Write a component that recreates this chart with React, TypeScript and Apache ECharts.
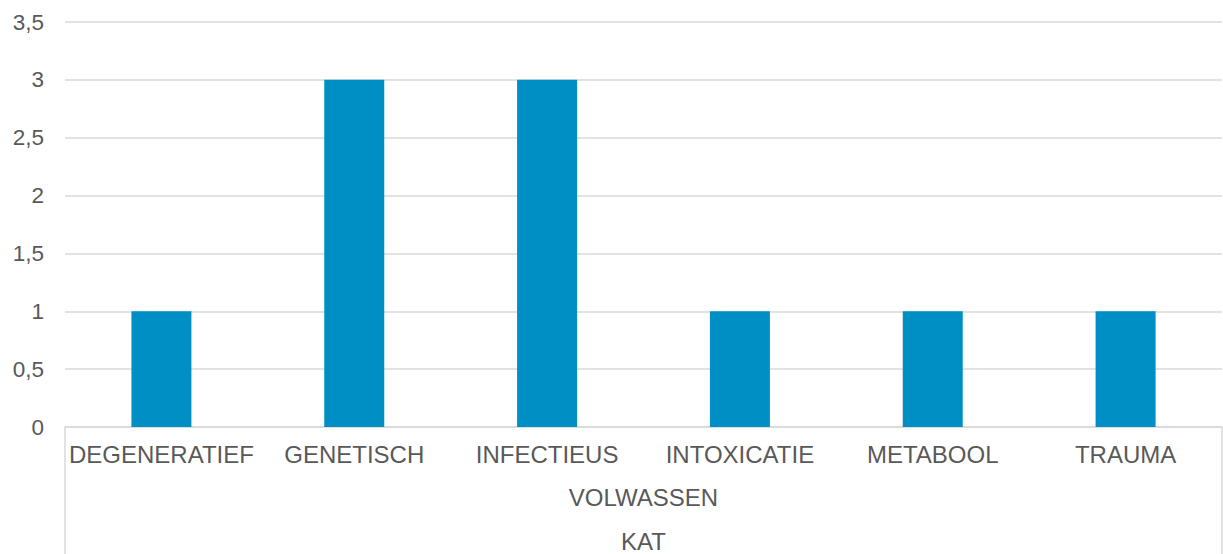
import React, { useEffect, useRef } from "react";
import * as echarts from "echarts";

const categories = ["DEGENERATIEF", "GENETISCH", "INFECTIEUS", "INTOXICATIE", "METABOOL", "TRAUMA"];
const values = [1, 3, 3, 1, 1, 1];
const groupLevel1 = ["VOLWASSEN"];
const groupLevel2 = ["KAT"];

const FONT = "'Liberation Sans', Arial, sans-serif";
const TEXT = "#595959";
const GRID = "#d9d9d9";
const XFS = 24;

export default function App() {
  const ref = useRef<HTMLDivElement>(null);
  useEffect(() => {
    document.body.style.margin = "0";
    const chart = echarts.init(ref.current!, null, { renderer: "svg" });
    chart.setOption({
      animation: false,
      textStyle: { fontFamily: FONT },
      grid: { left: 65, right: 1, top: 22, bottom: 127, containLabel: false },
      xAxis: [
        {
          type: "category",
          data: categories,
          position: "bottom",
          axisLine: { show: true, lineStyle: { color: GRID, width: 1.5 } },
          axisTick: { show: false },
          axisLabel: { color: TEXT, fontSize: XFS, fontFamily: FONT, margin: 15, interval: 0 },
        },
        {
          type: "category",
          data: groupLevel1,
          position: "bottom",
          axisLine: { show: false },
          axisTick: { show: true, length: 127, lineStyle: { color: GRID, width: 1.5 } },
          axisLabel: { color: TEXT, fontSize: XFS, fontFamily: FONT, margin: 58 },
        },
        {
          type: "category",
          data: groupLevel2,
          position: "bottom",
          axisLine: { show: false },
          axisTick: { show: false },
          axisLabel: { color: TEXT, fontSize: XFS, fontFamily: FONT, margin: 102 },
        },
      ],
      yAxis: {
        type: "value",
        min: 0,
        max: 3.5,
        interval: 0.5,
        axisLine: { show: false },
        axisTick: { show: false },
        splitLine: { show: true, lineStyle: { color: GRID, width: 1.5 } },
        axisLabel: {
          color: TEXT,
          fontSize: 22.5,
          fontFamily: FONT,
          margin: 21,
          formatter: (v: number) => String(v).replace(".", ","),
        },
      },
      series: [
        {
          type: "bar",
          data: values,
          xAxisIndex: 0,
          barWidth: 60,
          itemStyle: { color: "#008fc5" },
        },
      ],
    });
    return () => chart.dispose();
  }, []);
  return <div ref={ref} style={{ width: 1223, height: 554 }} />;
}
